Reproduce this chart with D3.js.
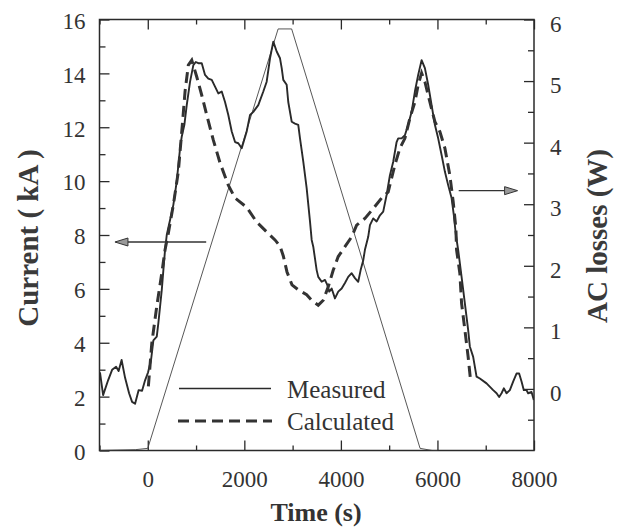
<!DOCTYPE html>
<html>
<head>
<meta charset="utf-8">
<script src="https://cdn.jsdelivr.net/npm/d3@7"></script>
<style>
  html, body { margin: 0; padding: 0; background: #fff; }
  svg { display: block; }
  svg text { font-family: "Liberation Serif", "Times New Roman", Times, serif; }
</style>
</head>
<body>
<svg id="chart" width="629" height="531"></svg>
<script>
// ---- Data ----
const currentTime = [-1000, -260, 0, 2700, 2980, 5640, 5890, 6000];
const currentKA   = [0.0, 0.03, 0.08, 15.65, 15.65, 0.08, 0.0, 0.0];

const measuredTime = [-990,-925,-822,-739,-656,-604,-542,-470,-387,-325,-263,-190,-118,-56,6,68,116,186,219,255,290,323,358,393,530,600,669,704,758,807,876,944,994,1047,1118,1186,1254,1325,1393,1461,1532,1600,1668,1739,1808,1875,1946,2049,2118,2186,2289,2393,2463,2532,2600,2670,2739,2774,2807,2877,2910,2981,3049,3117,3153,3221,3291,3360,3395,3428,3498,3531,3602,3670,3718,3759,3809,3877,3945,4016,4084,4152,4223,4291,4359,4409,4463,4498,4566,4602,4670,4740,4809,4877,4947,5016,5084,5154,5187,5258,5326,5394,5465,5533,5601,5672,5740,5808,5879,5947,6015,6086,6154,6222,6293,6340,6382,6429,6500,6568,6636,6671,6740,6810,6879,7017,7154,7225,7278,7328,7375,7431,7500,7568,7638,7692,7742,7789,7845,7878,7949,7996];
const measuredLoss = [0.27,-0.10,0.14,0.31,0.36,0.29,0.47,0.18,-0.07,-0.21,-0.24,-0.02,-0.03,0.14,0.27,0.47,0.79,0.85,1.07,1.34,1.61,1.93,2.26,2.50,2.99,3.37,3.91,4.10,4.29,4.61,4.99,5.26,5.31,5.29,5.29,5.10,5.04,5.02,4.91,4.80,4.83,4.66,4.45,4.18,4.01,3.99,3.91,4.18,4.45,4.50,4.61,4.83,4.99,5.37,5.64,5.48,5.37,5.21,5.02,4.94,4.66,4.34,4.31,4.29,4.07,3.69,3.26,2.72,2.42,2.31,1.93,1.82,1.74,1.77,1.69,1.58,1.63,1.47,1.58,1.63,1.72,1.82,1.88,1.80,1.74,1.93,2.09,2.26,2.47,2.66,2.77,2.72,2.82,2.88,3.15,3.47,3.69,4.01,4.07,4.07,4.12,4.29,4.50,4.83,5.10,5.34,5.21,4.94,4.61,4.29,4.07,3.80,3.53,3.31,3.10,2.82,2.50,2.26,1.82,1.39,0.96,0.69,0.52,0.20,0.17,0.09,-0.02,-0.07,-0.13,-0.07,0.01,-0.07,-0.02,0.12,0.25,0.25,0.12,-0.02,-0.02,-0.07,-0.05,-0.18];

const calcTime = [12,83,186,290,358,426,530,633,716,772,840,911,1014,1118,1221,1358,1497,1668,1807,2049,2256,2463,2635,2739,2807,2884,2987,3117,3291,3395,3531,3635,3738,3842,3945,4084,4223,4326,4498,4670,4844,4980,5119,5223,5326,5430,5533,5601,5672,5740,5843,5947,6050,6154,6257,6326,6382,6396,6464,6500,6568,6636,6686];
const calcLoss = [0.04,0.74,1.34,1.88,2.26,2.53,2.99,3.53,4.29,4.83,5.26,5.34,5.07,4.77,4.45,4.04,3.67,3.31,3.10,2.95,2.71,2.55,2.42,2.32,2.16,1.90,1.69,1.61,1.53,1.44,1.36,1.44,1.66,1.93,2.15,2.31,2.47,2.66,2.77,2.93,3.10,3.20,3.64,3.91,4.07,4.40,4.66,4.94,5.13,4.99,4.66,4.34,4.18,3.91,3.47,3.04,2.61,2.26,1.88,1.39,0.96,0.52,0.14];

const xMajorTicks = [0, 2000, 4000, 6000, 8000];
const xMinorTicks = [-1000, 1000, 3000, 5000, 7000];
const leftMajorTicks = [0, 2, 4, 6, 8, 10, 12, 14, 16];
const leftMinorTicks = [1, 3, 5, 7, 9, 11, 13, 15];
const rightMajorTicks = [0, 1, 2, 3, 4, 5, 6];
const rightMinorTicks = [-0.5, 0.5, 1.5, 2.5, 3.5, 4.5, 5.5];

const legendLabels = ["Measured", "Calculated"];
const xTitle = "Time (s)";
const yLeftTitle = "Current ( kA )";
const yRightTitle = "AC losses (W)";

// ---- Layout ----
const L = 99.5, R = 534, T = 19.5, B = 450.5;
const FONT = "\"Liberation Serif\", \"Times New Roman\", Times, serif";
const INK = "#2a2a2a";

const svg = d3.select("#chart");
const x = d3.scaleLinear().domain([-1000, 8000]).range([L, R]);
const yL = d3.scaleLinear().domain([0, 16]).range([B, T]);
const yR = d3.scaleLinear().domain([-1, 6]).range([B, T]);

svg.append("defs").append("clipPath").attr("id", "plotclip")
  .append("rect").attr("x", L).attr("y", T).attr("width", R - L).attr("height", B - T);

function styleAxis(g) {
  g.select(".domain").remove();
  g.attr("font-family", null).attr("font-size", null);
  g.selectAll("line").attr("stroke", INK).attr("stroke-width", 1.3);
  g.selectAll("text").style("font-family", FONT).style("font-size", "23px").attr("fill", "#333");
}

// bottom axis
svg.append("g").attr("transform", `translate(0,${B})`)
  .call(d3.axisBottom(x).tickValues(xMinorTicks).tickSize(-5).tickFormat(""))
  .call(styleAxis);
svg.append("g").attr("transform", `translate(0,${B})`)
  .call(d3.axisBottom(x).tickValues(xMajorTicks).tickSize(-10).tickPadding(20).tickFormat(d3.format("d")))
  .call(styleAxis);
// top axis
svg.append("g").attr("transform", `translate(0,${T})`)
  .call(d3.axisTop(x).tickValues(xMinorTicks).tickSize(-5).tickFormat(""))
  .call(styleAxis);
svg.append("g").attr("transform", `translate(0,${T})`)
  .call(d3.axisTop(x).tickValues(xMajorTicks).tickSize(-10).tickFormat(""))
  .call(styleAxis);
// left axis
svg.append("g").attr("transform", `translate(${L},0)`)
  .call(d3.axisLeft(yL).tickValues(leftMinorTicks).tickSize(-6).tickFormat(""))
  .call(styleAxis);
const gl = svg.append("g").attr("transform", `translate(${L},0)`)
  .call(d3.axisLeft(yL).tickValues(leftMajorTicks).tickSize(-10).tickPadding(14).tickFormat(d3.format("d")))
  .call(styleAxis);
gl.selectAll("text").attr("dy", "0.38em");
// right axis
svg.append("g").attr("transform", `translate(${R},0)`)
  .call(d3.axisRight(yR).tickValues(rightMinorTicks).tickSize(-6).tickFormat(""))
  .call(styleAxis);
const gr = svg.append("g").attr("transform", `translate(${R},0)`)
  .call(d3.axisRight(yR).tickValues(rightMajorTicks).tickSize(-10).tickPadding(16).tickFormat(d3.format("d")))
  .call(styleAxis);
gr.selectAll("text").attr("dy", "0.5em");

// frame
svg.append("rect").attr("x", L).attr("y", T).attr("width", R - L).attr("height", B - T)
  .attr("fill", "none").attr("stroke", INK).attr("stroke-width", 1.5);

// curves
const plot = svg.append("g").attr("clip-path", "url(#plotclip)");
const currentLine = d3.line().x((d, i) => x(currentTime[i])).y(d => yL(d));
const lossLine = times => d3.line().x((d, i) => x(times[i])).y(d => yR(d));

plot.append("path").attr("d", currentLine(currentKA))
  .attr("fill", "none").attr("stroke", "#444").attr("stroke-width", 0.9);
plot.append("path").attr("d", lossLine(measuredTime)(measuredLoss))
  .attr("fill", "none").attr("stroke", INK).attr("stroke-width", 1.9).attr("stroke-linejoin", "round");
plot.append("path").attr("d", lossLine(calcTime)(calcLoss))
  .attr("fill", "none").attr("stroke", "#333").attr("stroke-width", 3).attr("stroke-dasharray", "11,6");

// arrows
function arrow(x0, x1, y) {
  const dir = x1 > x0 ? 1 : -1;
  const head = 13, hw = 4;
  svg.append("line").attr("x1", x0).attr("x2", x1 - dir * head).attr("y1", y).attr("y2", y)
    .attr("stroke", "#333").attr("stroke-width", 1.3);
  svg.append("path")
    .attr("d", `M${x1},${y} L${x1 - dir * head},${y - hw} L${x1 - dir * head},${y + hw} Z`)
    .attr("fill", "#999").attr("stroke", "#333").attr("stroke-width", 1);
}
arrow(x(1210), x(-680), yL(7.74));
arrow(x(6440), x(7660), yR(3.22));

// legend
const legend = svg.append("g");
legend.append("line").attr("x1", 179).attr("x2", 271).attr("y1", 388.5).attr("y2", 388.5)
  .attr("stroke", INK).attr("stroke-width", 1.5);
legend.append("line").attr("x1", 178).attr("x2", 272).attr("y1", 421).attr("y2", 421)
  .attr("stroke", "#333").attr("stroke-width", 3).attr("stroke-dasharray", "11,6");
legend.append("text").attr("x", 287).attr("y", 398).text(legendLabels[0])
  .style("font-family", FONT).style("font-size", "25px").attr("fill", "#333");
legend.append("text").attr("x", 287).attr("y", 430).text(legendLabels[1])
  .style("font-family", FONT).style("font-size", "25px").attr("fill", "#333");

// titles
svg.append("text").attr("x", 316).attr("y", 521).attr("text-anchor", "middle")
  .style("font-family", FONT).style("font-size", "26px").style("font-weight", "bold").attr("fill", "#333")
  .text(xTitle);
svg.append("text").attr("transform", "translate(38,238) rotate(-90)").attr("text-anchor", "middle")
  .style("font-family", FONT).style("font-size", "29px").style("font-weight", "bold").attr("fill", "#3a3a3a")
  .text(yLeftTitle);
svg.append("text").attr("transform", "translate(607,236) rotate(-90)").attr("text-anchor", "middle")
  .style("font-family", FONT).style("font-size", "29px").style("font-weight", "bold").attr("fill", "#3a3a3a")
  .text(yRightTitle);
</script>
</body>
</html>
